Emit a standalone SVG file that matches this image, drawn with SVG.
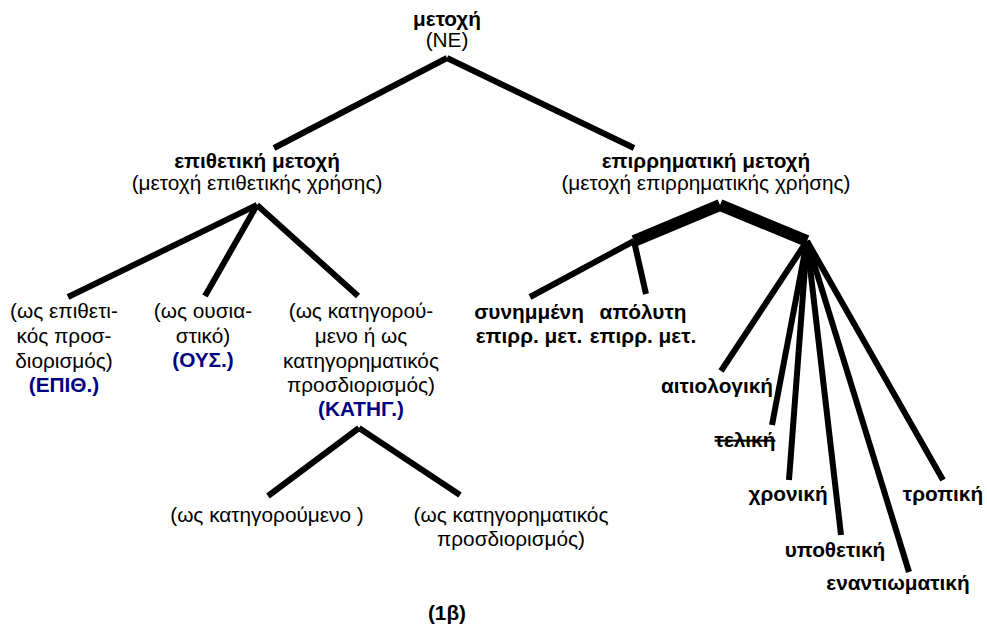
<svg xmlns="http://www.w3.org/2000/svg" width="987" height="638" viewBox="0 0 987 638">
<style>
text{font-family:"Liberation Sans",Arial,sans-serif;font-size:20.8px;fill:#000;text-anchor:middle}
.b{font-weight:bold}
.blue{font-weight:bold;fill:#000080}
.strike{text-decoration:line-through}
.c line{stroke:#000;stroke-width:6;stroke-linecap:butt}
.c line.thick{stroke-width:12}
</style>
<rect width="987" height="638" fill="#fff"/>
<g class="c" id="connectors">
<line x1="447" y1="58" x2="274" y2="148"/>
<line x1="447" y1="58" x2="634" y2="148"/>
<line x1="257" y1="205" x2="68" y2="297"/>
<line x1="257" y1="205" x2="205" y2="296"/>
<line x1="257" y1="205" x2="358" y2="296"/>
<line x1="359" y1="428" x2="268" y2="496"/>
<line x1="359" y1="428" x2="460" y2="495"/>
<line class="thick" x1="720" y1="205" x2="634" y2="241"/>
<line class="thick" x1="720" y1="205" x2="807" y2="241"/>
<line x1="634" y1="241" x2="530" y2="297"/>
<line x1="634" y1="241" x2="646" y2="294"/>
<line x1="807" y1="241" x2="721" y2="371"/>
<line x1="807" y1="241" x2="772" y2="425"/>
<line x1="807" y1="241" x2="789" y2="480"/>
<line x1="807" y1="241" x2="841" y2="535"/>
<line x1="807" y1="241" x2="909" y2="572"/>
<line x1="807" y1="241" x2="943" y2="480"/>
</g>
<g id="root"><text class="b" x="447" y="26">μετοχή</text><text x="447" y="47">(ΝΕ)</text></g>
<g id="epith"><text class="b" x="257" y="168">επιθετική μετοχή</text><text x="257" y="190">(μετοχή επιθετικής χρήσης)</text></g>
<g id="epirr"><text class="b" x="706" y="168">επιρρηματική μετοχή</text><text x="706" y="190">(μετοχή επιρρηματικής χρήσης)</text></g>
<g id="epith-pros"><text x="64" y="318">(ως επιθετι-</text><text x="64" y="343">κός προσ-</text><text x="64" y="368">διορισμός)</text><text class="blue" x="64" y="392">(ΕΠΙΘ.)</text></g>
<g id="ousiast"><text x="203" y="318">(ως ουσια-</text><text x="203" y="343">στικό)</text><text class="blue" x="203" y="367">(ΟΥΣ.)</text></g>
<g id="katig"><text x="361" y="318">(ως κατηγορού-</text><text x="361" y="343">μενο ή ως</text><text x="361" y="368">κατηγορηματικός</text><text x="361" y="392">προσδιορισμός)</text><text class="blue" x="361" y="416">(ΚΑΤΗΓ.)</text></g>
<g id="katigoroumeno"><text x="267" y="522">(ως κατηγορούμενο )</text></g>
<g id="katig-pros"><text x="511" y="522">(ως κατηγορηματικός</text><text x="511" y="546">προσδιορισμός)</text></g>
<g id="synimmeni"><text class="b" x="529" y="319">συνημμένη</text><text class="b" x="529" y="343">επιρρ. μετ.</text></g>
<g id="apolyti"><text class="b" x="643" y="319">απόλυτη</text><text class="b" x="643" y="343">επιρρ. μετ.</text></g>
<g id="aitiologiki"><text class="b" x="717" y="393">αιτιολογική</text></g>
<g id="teliki"><text class="b strike" x="745" y="447">τελική</text></g>
<g id="chroniki"><text class="b" x="788" y="501">χρονική</text></g>
<g id="ypothetiki"><text class="b" x="835" y="557">υποθετική</text></g>
<g id="enantiomatiki"><text class="b" x="898" y="590">εναντιωματική</text></g>
<g id="tropiki"><text class="b" x="943" y="501">τροπική</text></g>
<g id="caption"><text class="b" x="447" y="620">(1β)</text></g>
</svg>
